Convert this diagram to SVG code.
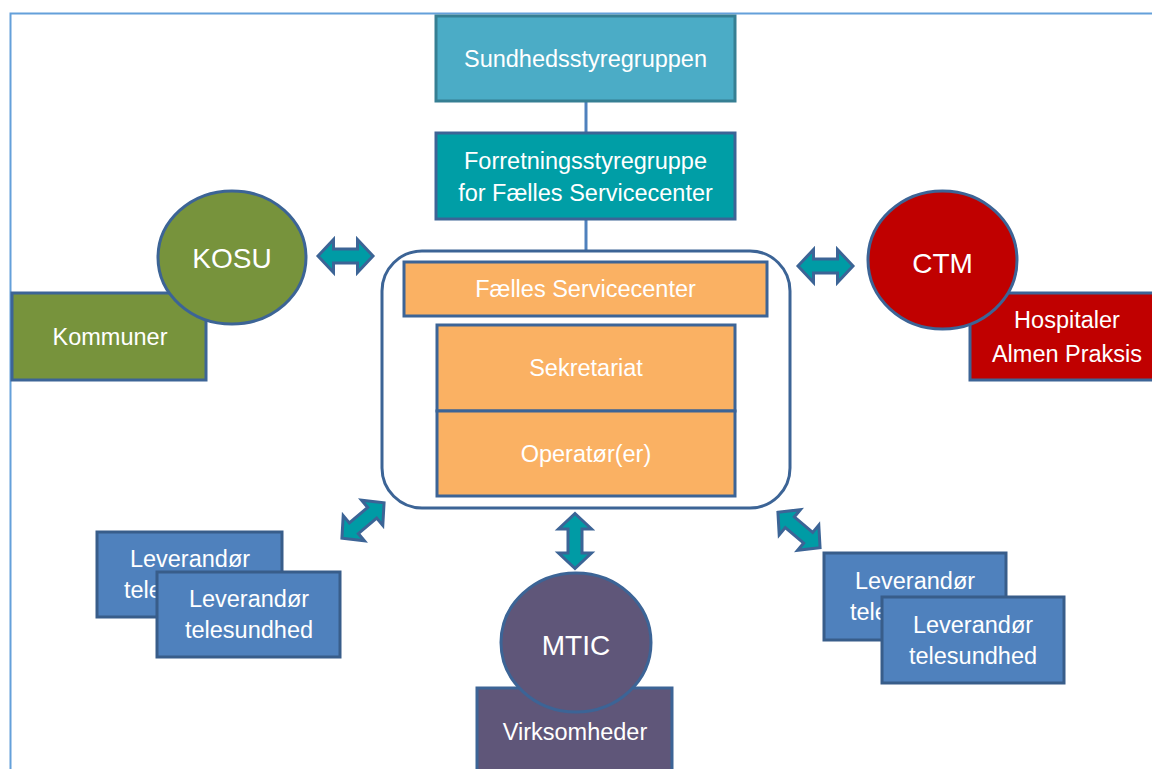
<svg xmlns="http://www.w3.org/2000/svg" width="1152" height="769" viewBox="0 0 1152 769">
<style>
text{font-family:"Liberation Sans",Arial,sans-serif;fill:#fff;text-anchor:middle;font-size:23.5px}
.big{font-size:28px}
.st{text-anchor:start}
.ol{stroke:#3c6496;stroke-width:3}
.blue{fill:#4f81bd;stroke:#385d8a;stroke-width:3}
.org{fill:#fab163;stroke:#3c6496;stroke-width:3}
.arr{fill:#009ba5;stroke:#3c6496;stroke-width:3;stroke-linejoin:miter}
.conn{stroke:#4f81bd;stroke-width:3;fill:none}
</style>
<defs>
<path id="dbl" d="M -27.5 0 L -12 -16.5 L -12 -7 L 12 -7 L 12 -16.5 L 27.5 0 L 12 16.5 L 12 7 L -12 7 L -12 16.5 Z"/>
</defs>
<rect width="1152" height="769" fill="#fff"/>
<path d="M10.5 769 V13.5 H1152" fill="none" stroke="#64a0da" stroke-width="2"/>
<g id="connectors">
<line class="conn" x1="586" y1="100" x2="586" y2="133"/>
<line class="conn" x1="586" y1="220" x2="586" y2="251"/>
<use href="#dbl" class="arr" transform="translate(345.5,256)"/>
<use href="#dbl" class="arr" transform="translate(825.5,266)"/>
<use href="#dbl" class="arr" transform="translate(363,520.5) rotate(-40)"/>
<use href="#dbl" class="arr" transform="translate(575,541) rotate(90)"/>
<use href="#dbl" class="arr" transform="translate(799,530) rotate(40)"/>
</g>
<g id="sundhed">
<rect x="436" y="16" width="299" height="85" fill="#4bacc6" stroke="#367f93" stroke-width="3"/>
<text x="585.5" y="67">Sundhedsstyregruppen</text>
</g>
<g id="forretning">
<rect x="436" y="133" width="299" height="86" fill="#009ea6" stroke="#3c6496" stroke-width="3"/>
<text x="585.5" y="169">Forretningsstyregruppe</text>
<text x="585.5" y="201">for Fælles Servicecenter</text>
</g>
<g id="servicecenter">
<rect x="382" y="251" width="408" height="257" rx="40" fill="#fff" class="ol"/>
<rect x="404" y="262" width="363" height="54" class="org"/>
<text x="585.5" y="297">Fælles Servicecenter</text>
</g>
<g id="sekretariat">
<rect x="437" y="325" width="298" height="86" class="org"/>
<text x="586" y="376">Sekretariat</text>
</g>
<g id="operatoer">
<rect x="437" y="411" width="298" height="85" class="org"/>
<text x="586" y="462">Operatør(er)</text>
</g>
<g id="kosu">
<rect x="12" y="293" width="194" height="87" fill="#77933c" class="ol"/>
<text x="110" y="345">Kommuner</text>
<ellipse cx="232" cy="257.5" rx="74" ry="66.5" fill="#77933c" class="ol"/>
<text class="big" x="232" y="268">KOSU</text>
</g>
<g id="ctm">
<rect x="970" y="293" width="196" height="87" fill="#c00000" class="ol"/>
<text x="1067" y="328">Hospitaler</text>
<text x="1067" y="362">Almen Praksis</text>
<ellipse cx="942.5" cy="260" rx="74.5" ry="69" fill="#c00000" class="ol"/>
<text class="big" x="942.5" y="273">CTM</text>
</g>
<g id="mtic">
<rect x="477" y="688" width="195" height="90" fill="#5f5679" class="ol"/>
<text x="575" y="740">Virksomheder</text>
<ellipse cx="576" cy="642.5" rx="75" ry="69.5" fill="#5f5679" class="ol"/>
<text class="big" x="576" y="655">MTIC</text>
</g>
<g id="leverandoer-left-back">
<rect x="97" y="532" width="185" height="85" class="blue"/>
<text x="190" y="567">Leverandør</text>
<text class="st" x="124" y="598">tele</text>
</g>
<g id="leverandoer-left-front">
<rect x="157" y="572" width="183" height="85" class="blue"/>
<text x="249" y="607">Leverandør</text>
<text x="249" y="638">telesundhed</text>
</g>
<g id="leverandoer-right-back">
<rect x="824" y="553" width="182" height="87" class="blue"/>
<text x="915" y="589">Leverandør</text>
<text class="st" x="850" y="620">tele</text>
</g>
<g id="leverandoer-right-front">
<rect x="882" y="597" width="182" height="86" class="blue"/>
<text x="973" y="633">Leverandør</text>
<text x="973" y="664">telesundhed</text>
</g>
</svg>
